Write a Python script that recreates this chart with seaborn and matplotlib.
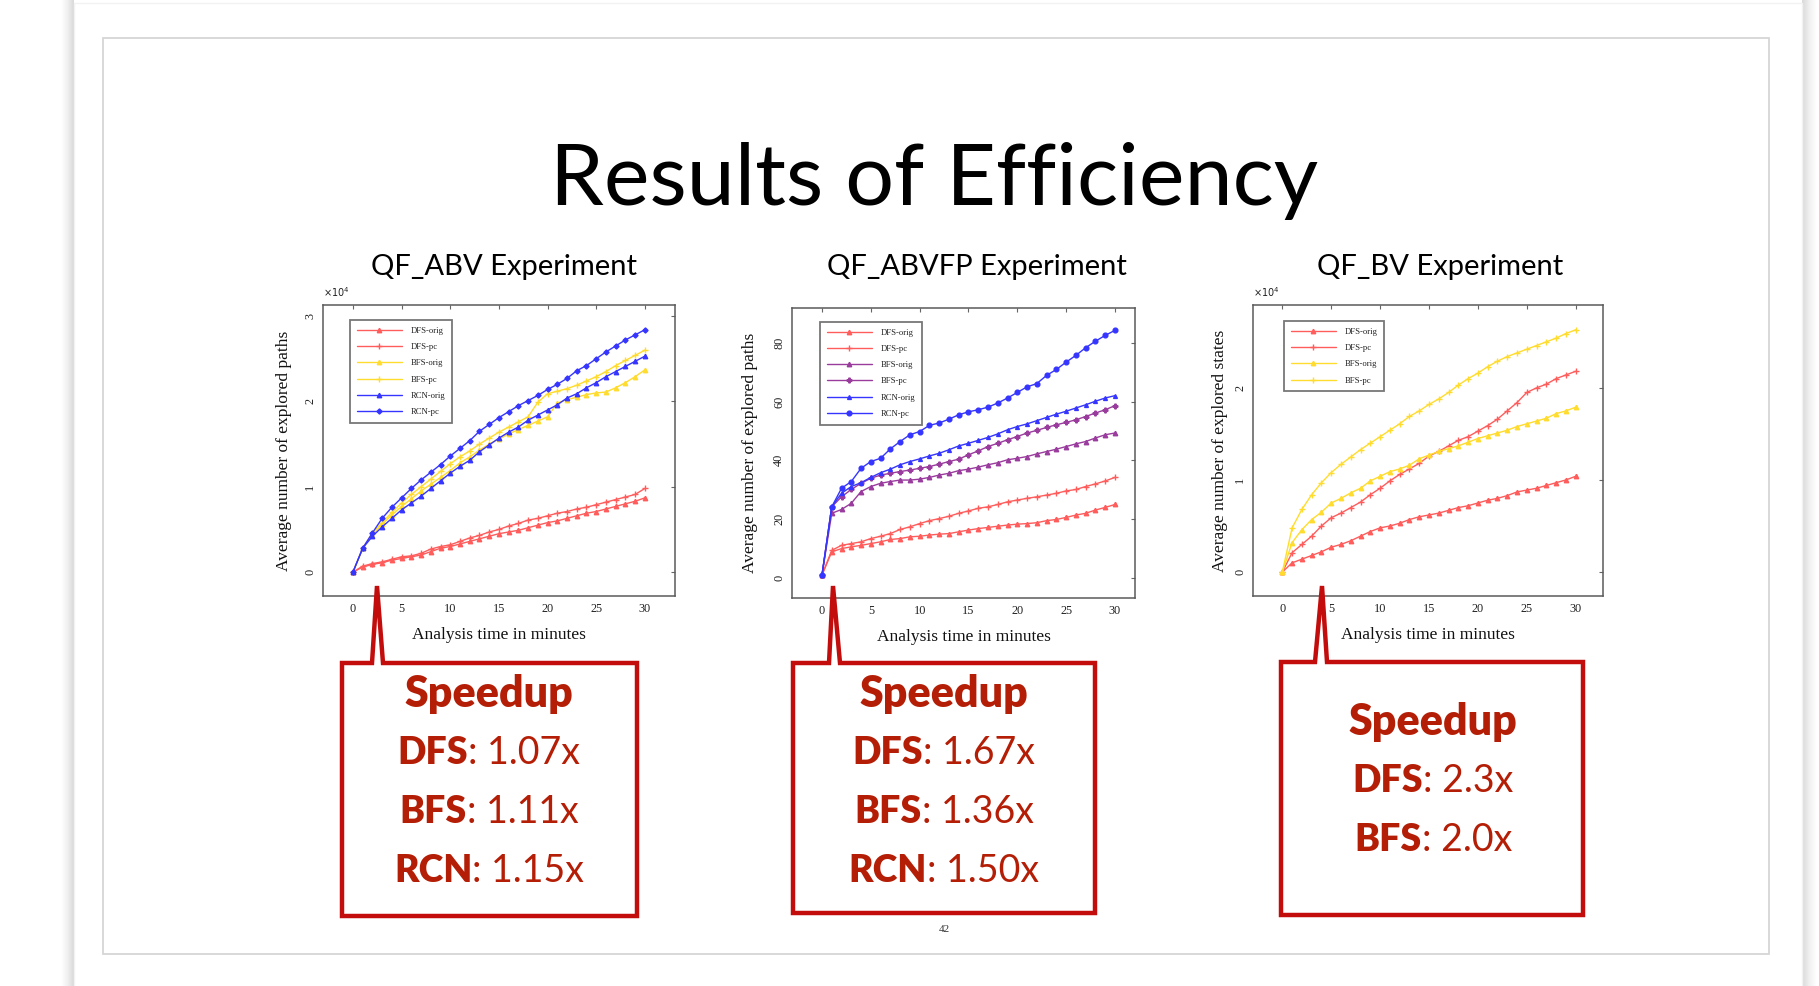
import matplotlib
matplotlib.use("Agg")
import numpy as np
import pandas as pd
import matplotlib.pyplot as plt
import seaborn as sns
from matplotlib.patches import Rectangle, Polygon

# ---------------------------------------------------------------- data
minutes = list(range(31))

# QF_ABV (x 10^4 explored paths)
abv_dfs_orig = [0, 0.06, 0.09, 0.11, 0.14, 0.16, 0.18, 0.20, 0.24, 0.28, 0.30, 0.33, 0.36, 0.39, 0.42, 0.45,
                0.47, 0.49, 0.52, 0.55, 0.58, 0.60, 0.63, 0.66, 0.69, 0.71, 0.74, 0.77, 0.80, 0.83, 0.87]
abv_dfs_pc = [0, 0.07, 0.10, 0.12, 0.15, 0.18, 0.19, 0.22, 0.27, 0.30, 0.32, 0.36, 0.40, 0.43, 0.47, 0.50,
              0.54, 0.57, 0.61, 0.63, 0.66, 0.69, 0.71, 0.74, 0.76, 0.79, 0.82, 0.85, 0.88, 0.91, 0.98]
abv_bfs_orig = [0, 0.28, 0.44, 0.56, 0.67, 0.77, 0.86, 0.95, 1.03, 1.11, 1.19, 1.28, 1.35, 1.43, 1.50, 1.56,
                1.62, 1.67, 1.72, 1.77, 1.82, 1.98, 2.02, 2.05, 2.08, 2.10, 2.11, 2.16, 2.22, 2.29, 2.37]
abv_bfs_pc = [0, 0.28, 0.46, 0.58, 0.70, 0.81, 0.91, 1.00, 1.09, 1.18, 1.27, 1.35, 1.42, 1.50, 1.57, 1.64,
              1.70, 1.76, 1.82, 1.99, 2.09, 2.12, 2.15, 2.19, 2.24, 2.29, 2.35, 2.42, 2.48, 2.54, 2.60]
abv_rcn_orig = [0, 0.28, 0.42, 0.53, 0.63, 0.73, 0.81, 0.89, 0.98, 1.07, 1.16, 1.24, 1.31, 1.41, 1.49, 1.57,
                1.64, 1.70, 1.78, 1.84, 1.90, 1.96, 2.04, 2.09, 2.16, 2.22, 2.29, 2.35, 2.41, 2.47, 2.53]
abv_rcn_pc = [0, 0.28, 0.46, 0.63, 0.76, 0.87, 0.98, 1.08, 1.17, 1.26, 1.36, 1.45, 1.54, 1.65, 1.73, 1.81,
              1.88, 1.95, 2.01, 2.07, 2.14, 2.20, 2.27, 2.36, 2.42, 2.50, 2.58, 2.65, 2.72, 2.78, 2.84]

# QF_ABVFP (explored paths)
abvfp_dfs_orig = [1, 8.9, 10.0, 10.6, 11.1, 11.7, 12.3, 13.1, 13.4, 14.0, 14.2, 14.6, 14.9, 15.1, 15.7, 16.3,
                  16.8, 17.2, 17.6, 18.0, 18.3, 18.5, 18.8, 19.5, 19.9, 20.6, 21.4, 22.0, 23.1, 24.0, 25.0]
abvfp_dfs_pc = [1, 9.4, 11.1, 11.7, 12.3, 13.4, 14.2, 15.1, 16.5, 17.4, 18.5, 19.5, 20.2, 21.0, 22.0, 22.8,
                23.7, 24.2, 25.0, 25.9, 26.5, 27.1, 27.6, 28.2, 28.8, 29.6, 30.1, 31.1, 32.0, 33.0, 34.2]
abvfp_bfs_orig = [1, 22.0, 23.3, 25.4, 29.4, 31.1, 32.2, 32.8, 33.3, 33.3, 33.6, 34.2, 35.0, 35.6, 36.5, 37.0,
                  37.7, 38.5, 39.2, 40.2, 40.7, 41.3, 42.2, 43.0, 43.8, 44.7, 45.6, 46.4, 47.6, 48.7, 49.3]
abvfp_bfs_pc = [1, 24.2, 27.6, 30.1, 32.2, 33.9, 35.0, 35.6, 36.2, 36.7, 37.3, 37.9, 38.7, 39.6, 40.4, 41.9,
                43.2, 44.7, 45.8, 47.0, 48.1, 49.3, 50.2, 51.2, 52.1, 52.9, 53.8, 54.9, 56.1, 57.2, 58.6]
abvfp_rcn_orig = [1, 24.2, 28.8, 31.1, 32.4, 34.2, 35.8, 37.0, 38.5, 39.6, 40.5, 41.5, 42.4, 43.6, 44.9, 45.8,
                  46.8, 47.8, 49.0, 50.4, 51.5, 52.4, 53.5, 54.6, 55.7, 56.7, 57.8, 58.9, 60.1, 61.2, 62.0]
abvfp_rcn_pc = [1, 24.2, 30.5, 32.8, 37.3, 39.6, 40.7, 43.9, 46.4, 48.7, 49.8, 51.9, 52.7, 54.0, 55.5, 56.5,
                57.2, 58.1, 59.5, 61.2, 63.1, 65.0, 66.1, 68.9, 70.9, 73.4, 75.7, 78.3, 80.5, 82.5, 84.2]

# QF_BV (x 10^4 explored states)
bv_dfs_orig = [0, 0.10, 0.14, 0.18, 0.22, 0.27, 0.30, 0.34, 0.39, 0.44, 0.48, 0.50, 0.53, 0.57, 0.60, 0.62,
               0.64, 0.67, 0.70, 0.72, 0.75, 0.78, 0.80, 0.83, 0.87, 0.89, 0.91, 0.94, 0.97, 1.00, 1.04]
bv_dfs_pc = [0, 0.21, 0.30, 0.39, 0.50, 0.59, 0.64, 0.70, 0.76, 0.84, 0.91, 0.99, 1.06, 1.12, 1.18, 1.26,
             1.31, 1.37, 1.43, 1.47, 1.53, 1.59, 1.66, 1.75, 1.84, 1.95, 2.00, 2.04, 2.10, 2.14, 2.18]
bv_bfs_orig = [0, 0.32, 0.46, 0.57, 0.65, 0.75, 0.80, 0.86, 0.91, 0.99, 1.04, 1.09, 1.12, 1.16, 1.23, 1.27,
               1.31, 1.34, 1.37, 1.41, 1.45, 1.48, 1.51, 1.54, 1.58, 1.61, 1.64, 1.67, 1.72, 1.75, 1.79]
bv_bfs_pc = [0, 0.48, 0.68, 0.84, 0.97, 1.08, 1.17, 1.25, 1.33, 1.40, 1.47, 1.54, 1.61, 1.69, 1.75, 1.82,
             1.88, 1.95, 2.03, 2.10, 2.16, 2.23, 2.29, 2.34, 2.38, 2.42, 2.46, 2.50, 2.54, 2.59, 2.63]

panel_titles = ["QF_ABV Experiment", "QF_ABVFP Experiment", "QF_BV Experiment"]
x_ticks = [0, 5, 10, 15, 20, 25, 30]
abv_yticks = [0, 1, 2, 3]
abvfp_yticks = [0, 20, 40, 60, 80]
bv_yticks = [0, 1, 2]

abv_speedup_algos = ["DFS", "BFS", "RCN"]
abv_speedup_vals = ["1.07x", "1.11x", "1.15x"]
abvfp_speedup_algos = ["DFS", "BFS", "RCN"]
abvfp_speedup_vals = ["1.67x", "1.36x", "1.50x"]
bv_speedup_algos = ["DFS", "BFS"]
bv_speedup_vals = ["2.3x", "2.0x"]

# ---------------------------------------------------------------- style
sns.set_theme(style="white")
plt.rcParams["font.family"] = ["Lato", "DejaVu Sans"]
SERIF = ["Liberation Serif", "DejaVu Serif"]

RED = "#ff5c5c"
YEL = "#ffdc2e"
BLU = "#3535ff"
PUR = "#9a3c9e"
CALLOUT = "#c30d0d"
CALLTXT = "#b41e06"

W, H = 1819, 986
fig = plt.figure(figsize=(W / 100, H / 100), dpi=100)
fig.patch.set_facecolor("white")

# slide card with soft side shadows
bg = fig.add_axes([0, 0, 1, 1], zorder=-10)
bg.set_xlim(0, W)
bg.set_ylim(H, 0)
bg.axis("off")
grad_l = np.linspace(0.0, 1.0, 40)[None, :]
bg.imshow(grad_l, extent=(61, 74, H, 0), cmap="Greys", vmin=0, vmax=4.0, aspect="auto")
grad_r = np.linspace(1.0, 0.0, 40)[None, :]
bg.imshow(grad_r, extent=(1802, 1817, H, 0), cmap="Greys", vmin=0, vmax=4.0, aspect="auto")
bg.add_patch(Rectangle((74, 3), 1728, H, facecolor="white", edgecolor="#f2f2f2", lw=1.0))
bg.add_patch(Rectangle((103, 38), 1666, 916, facecolor="none", edgecolor="#d6d6d6", lw=1.3))
bg.set_xlim(0, W)
bg.set_ylim(H, 0)


def px_axes(x0, y0, x1, y1):
    return fig.add_axes([x0 / W, 1 - y1 / H, (x1 - x0) / W, (y1 - y0) / H])


def style_panel(ax, xlim, ylim, yticks, ylabel, ylab_x):
    ax.set_xlim(*xlim)
    ax.set_ylim(*ylim)
    ax.set_xticks(x_ticks)
    ax.set_yticks(yticks)
    ax.set_xticklabels([str(v) for v in x_ticks], family=SERIF, fontsize=8.8, color="#222")
    ax.set_yticklabels([str(v) for v in yticks], family=SERIF, fontsize=8.8, color="#222",
                       rotation=90, va="center")
    ax.tick_params(direction="in", top=True, right=True, length=3, width=0.8, color="#666", pad=5)
    for s in ax.spines.values():
        s.set_visible(True)
        s.set_color("#5a5a5a")
        s.set_linewidth(1.1)
    ax.set_xlabel("Analysis time in minutes", family=SERIF, fontsize=12.5, color="#111")
    ax.xaxis.set_label_coords(0.5, -0.108)
    ax.set_ylabel(ylabel, family=SERIF, fontsize=12.5, color="#111")
    ax.yaxis.set_label_coords(ylab_x, 0.5)
    ax.set_facecolor("white")
    ax.grid(False)


def draw_series(ax, series):
    for values, label, color, marker, ms in series:
        sns.lineplot(x=minutes, y=values, ax=ax, color=color, marker=marker, markersize=ms,
                     markeredgecolor=color, markeredgewidth=1.0, linewidth=1.0, label=label,
                     errorbar=None)


def panel_legend(ax, x, y):
    leg = ax.legend(loc="upper left", bbox_to_anchor=(x, y), borderaxespad=0, fontsize=6.2,
                    frameon=True, fancybox=False, handlelength=5.2, labelspacing=0.95,
                    borderpad=0.8, handletextpad=1.0, markerfirst=True)
    leg.get_frame().set_edgecolor("#555")
    leg.get_frame().set_linewidth(1.3)
    for t in leg.get_texts():
        t.set_family(SERIF)
        t.set_color("#222")


# ---------------------------------------------------------------- panels
ax1 = px_axes(323, 305, 675, 596)
draw_series(ax1, [
    (abv_dfs_orig, "DFS-orig", RED, "^", 3.2),
    (abv_dfs_pc, "DFS-pc", RED, "+", 4.0),
    (abv_bfs_orig, "BFS-orig", YEL, "^", 3.2),
    (abv_bfs_pc, "BFS-pc", YEL, "+", 4.0),
    (abv_rcn_orig, "RCN-orig", BLU, "^", 3.2),
    (abv_rcn_pc, "RCN-pc", BLU, "D", 2.6),
])
style_panel(ax1, (-3.08, 33.1), (-0.28, 3.13), abv_yticks, "Average number of explored paths", -0.088)
panel_legend(ax1, 0.077, 0.948)
ax1.text(0.0, 1.02, r"$\times10^{4}$", transform=ax1.transAxes, fontsize=7, family=SERIF,
         ha="left", va="bottom", color="#222")

ax2 = px_axes(792, 308, 1135, 598)
draw_series(ax2, [
    (abvfp_dfs_orig, "DFS-orig", RED, "^", 3.2),
    (abvfp_dfs_pc, "DFS-pc", RED, "+", 4.0),
    (abvfp_bfs_orig, "BFS-orig", PUR, "^", 3.2),
    (abvfp_bfs_pc, "BFS-pc", PUR, "P", 3.4),
    (abvfp_rcn_orig, "RCN-orig", BLU, "^", 2.8),
    (abvfp_rcn_pc, "RCN-pc", BLU, "o", 3.4),
])
style_panel(ax2, (-3.07, 32.05), (-6.8, 91.8), abvfp_yticks, "Average number of explored paths", -0.099)
panel_legend(ax2, 0.082, 0.952)

ax3 = px_axes(1253, 305, 1603, 596)
draw_series(ax3, [
    (bv_dfs_orig, "DFS-orig", RED, "^", 3.2),
    (bv_dfs_pc, "DFS-pc", RED, "+", 4.0),
    (bv_bfs_orig, "BFS-orig", YEL, "^", 3.2),
    (bv_bfs_pc, "BFS-pc", YEL, "+", 4.0),
])
style_panel(ax3, (-3.0, 32.8), (-0.26, 2.9), bv_yticks, "Average number of explored states", -0.071)
panel_legend(ax3, 0.089, 0.945)
ax3.text(0.0, 1.02, r"$\times10^{4}$", transform=ax3.transAxes, fontsize=7, family=SERIF,
         ha="left", va="bottom", color="#222")

# ---------------------------------------------------------------- overlay: titles and callouts
ov = fig.add_axes([0, 0, 1, 1], zorder=20)
ov.set_xlim(0, W)
ov.set_ylim(H, 0)
ov.axis("off")
ov.patch.set_alpha(0)

ov.text(934, 205, "Results of Efficiency", fontsize=62, ha="center", va="baseline", color="black")
for cx, title in zip([504, 977, 1440], panel_titles):
    ov.text(cx, 267, title, fontsize=21, ha="center", va="center", color="black")

ov.text(944, 930, "42", family=SERIF, fontsize=8, ha="center", va="center", color="#333")


def callout(x0, y0, x1, y1, tl, tr, apex):
    pts = [(x0, y0), (tl, y0), apex, (tr, y0), (x1, y0), (x1, y1), (x0, y1)]
    ov.add_patch(Polygon(pts, closed=True, facecolor="none", edgecolor=CALLOUT, lw=3.2,
                         joinstyle="miter"))


callout(342, 663, 637, 916, 372, 383, (377, 586))
callout(793, 663, 1095, 913, 829, 840, (833, 586))
callout(1281, 662, 1583, 915, 1315, 1327, (1322, 586))

renderer = fig.canvas.get_renderer()


def mixed_line(xc, y, bold, rest, size=27):
    t1 = ov.text(0, y, bold, fontsize=size, fontweight="heavy", color=CALLTXT, ha="left", va="center")
    t2 = ov.text(0, y, rest, fontsize=size, color=CALLTXT, ha="left", va="center")
    w1 = t1.get_window_extent(renderer).width
    w2 = t2.get_window_extent(renderer).width
    start = xc - (w1 + w2) / 2
    t1.set_x(start)
    t2.set_x(start + w1)


def speedup_box(xc, y_head, algos, vals, step=59):
    ov.text(xc, y_head, "Speedup", fontsize=31, fontweight="heavy", color=CALLTXT,
            ha="center", va="center")
    for i, (a, v) in enumerate(zip(algos, vals)):
        mixed_line(xc, y_head + step * (i + 1), a, ": " + v)


speedup_box(489, 694, abv_speedup_algos, abv_speedup_vals)
speedup_box(944, 694, abvfp_speedup_algos, abvfp_speedup_vals)
speedup_box(1433, 722, bv_speedup_algos, bv_speedup_vals)

fig.savefig("out.png", dpi=100, facecolor="white")
